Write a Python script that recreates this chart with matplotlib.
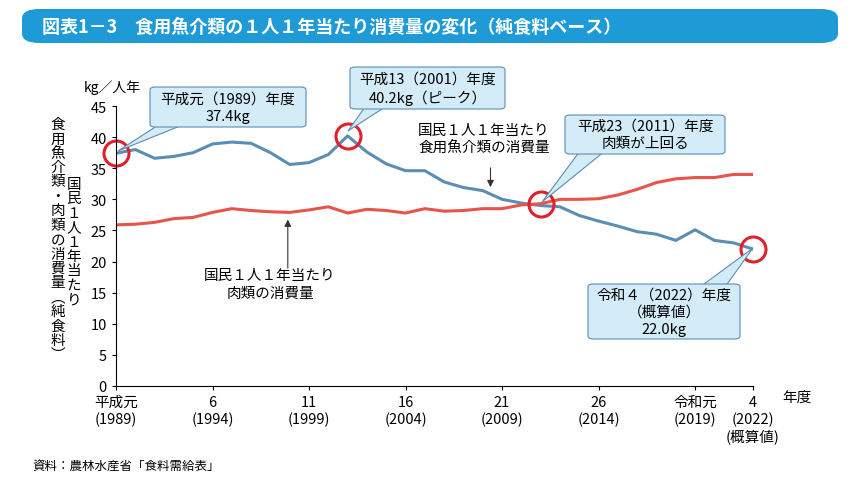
import matplotlib
matplotlib.use("Agg")
import matplotlib.pyplot as plt
from matplotlib.patches import FancyBboxPatch, Polygon

plt.rcParams['font.family'] = ['Noto Sans CJK JP', 'DejaVu Sans']

years = list(range(1989, 2023))
fish = [37.4, 38.0, 36.6, 36.9, 37.5, 38.9, 39.2, 39.0, 37.5, 35.6, 35.9, 37.2, 40.2, 37.6, 35.7,
        34.6, 34.6, 32.8, 31.9, 31.4, 30.0, 29.4, 29.0, 28.8, 27.4, 26.5, 25.7, 24.8, 24.4, 23.4,
        25.1, 23.4, 23.0, 22.0]
meat = [25.9, 26.0, 26.3, 26.9, 27.1, 27.9, 28.5, 28.2, 28.0, 27.9, 28.3, 28.8, 27.8, 28.4, 28.2,
        27.8, 28.5, 28.1, 28.2, 28.5, 28.5, 29.1, 29.3, 30.0, 30.0, 30.1, 30.7, 31.6, 32.7, 33.3,
        33.5, 33.5, 34.0, 34.0]
tick_years = [1989, 1994, 1999, 2004, 2009, 2014, 2019, 2022]
tick_labels = ["平成元\n(1989)", "6\n(1994)", "11\n(1999)", "16\n(2004)", "21\n(2009)",
               "26\n(2014)", "令和元\n(2019)", "4\n(2022)\n(概算値)"]

W, H = 859, 485
fig = plt.figure(figsize=(W/100, H/100), dpi=100)
ax = fig.add_axes([116/W, 1-387/H, (753-116)/W, (387-107)/H])

blue = "#5b8db5"; red = "#e8544a"
ax.plot(years, fish, color=blue, lw=2.2)
ax.plot(years, meat, color=red, lw=2.2)
ax.set_xlim(1989, 2022)
ax.set_ylim(0, 45)
ax.set_yticks(range(0, 46, 5))
ax.set_xticks(tick_years)
ax.set_xticklabels(tick_labels, fontsize=10.5)
ax.tick_params(labelsize=10.5, length=3)
for s in ["top", "right"]:
    ax.spines[s].set_visible(False)
fig.text(782/W, 1-398/H, "年度", fontsize=10.5, va="center")
fig.text(84/W, 1-95/H, "kg／人年", fontsize=10, va="bottom")

for (x, y) in [(1989, 37.4), (2001, 40.2), (2011, 29.2), (2022, 22.0)]:
    ax.plot(x, y, 'o', ms=18, mfc='none', mec='#e0202a', mew=2.2, clip_on=False)

def callout(x0, y0, x1, y1, text, tip, base):
    fx = lambda p: p / W
    fy = lambda p: 1 - p / H
    poly = Polygon([(fx(base[0]), fy(base[1])), (fx(tip[0]), fy(tip[1])), (fx(base[2]), fy(base[3]))],
                   closed=True, transform=fig.transFigure, fc="#d3ecf8", ec="#5b8db5", lw=0.8, zorder=5)
    fig.patches.append(poly)
    box = FancyBboxPatch((fx(x0), fy(y1)), fx(x1 - x0), (y1 - y0) / H, boxstyle="round,pad=0,rounding_size=0.006",
                         transform=fig.transFigure, fc="#d3ecf8", ec="#5b8db5", lw=0.8, zorder=6)
    fig.patches.append(box)
    fig.text(fx((x0 + x1) / 2), fy((y0 + y1) / 2), text, ha="center", va="center", fontsize=10.5,
             linespacing=1.3, zorder=7)

callout(150, 88, 306, 128, "平成元（1989）年度\n37.4kg", (118, 152), (160, 125, 185, 125))
callout(350, 68, 505, 110, "平成13（2001）年度\n40.2kg（ピーク）", (348, 132), (365, 108, 385, 108))
callout(565, 116, 725, 155, "平成23（2011）年度\n肉類が上回る", (542, 203), (580, 152, 605, 152))
callout(588, 285, 740, 340, "令和４（2022）年度\n（概算値）\n22.0kg", (753, 249), (700, 288, 725, 288))

fig.text(484/W, 1-140/H, "国民１人１年当たり\n食用魚介類の消費量", ha="center", va="center", fontsize=10.5, linespacing=1.3)
ax.annotate("", xy=(2008.4, 31.5), xytext=(2008.4, 35.5), arrowprops=dict(arrowstyle="-|>", color="#333", lw=0.8))
fig.text(270/W, 1-285/H, "国民１人１年当たり\n肉類の消費量", ha="center", va="center", fontsize=10.5, linespacing=1.3)
ax.annotate("", xy=(1997.9, 27.2), xytext=(1997.9, 18.5), arrowprops=dict(arrowstyle="-|>", color="#333", lw=0.8))

col1 = "食用魚介類・肉類の消費量（純食料）"
col2 = "国民１人１年当たり"
def vtext(x, ytop, s):
    for i, ch in enumerate(s):
        c = ch
        if ch == "（": c = "︵"
        if ch == "）": c = "︶"
        fig.text(x / W, 1 - (ytop + i * 14.4) / H, c, ha="center", va="top", fontsize=10.5)
vtext(58, 118, col1)
vtext(74, 178, col2)

bar = FancyBboxPatch((22/W, 1-44/H), (838-22)/W, 34/H, boxstyle="round,pad=0,rounding_size=0.02",
                     transform=fig.transFigure, fc="#1e9ad6", ec="none")
fig.patches.append(bar)
fig.text(42/W, 1-27/H, "図表1－3　食用魚介類の１人１年当たり消費量の変化（純食料ベース）", color="white",
         fontsize=13, fontweight="bold", va="center")
fig.text(32/W, 1-466/H, "資料：農林水産省「食料需給表」", fontsize=9, va="center")

fig.savefig("out.png", dpi=100)
